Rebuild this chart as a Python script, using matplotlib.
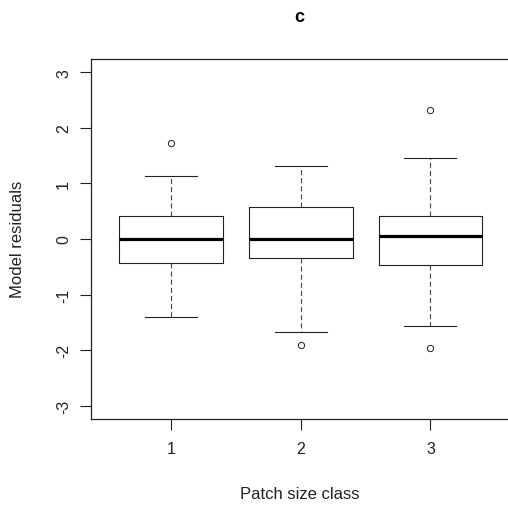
import matplotlib
matplotlib.use("Agg")
import matplotlib.pyplot as plt

plt.rcParams['font.family'] = ['Liberation Sans', 'DejaVu Sans']
plt.rcParams['axes.unicode_minus'] = False

# residual summaries per patch size class
classes = [1, 2, 3]
medians = [0.0, 0.0, 0.05]
q1 = [-0.43, -0.35, -0.46]
q3 = [0.42, 0.58, 0.42]
whisk_lo = [-1.40, -1.68, -1.56]
whisk_hi = [1.13, 1.31, 1.46]
outliers = [[1.72], [-1.91], [2.32, -1.97]]

stats = []
for i in range(len(classes)):
    stats.append({"med": medians[i], "q1": q1[i], "q3": q3[i],
                  "whislo": whisk_lo[i], "whishi": whisk_hi[i],
                  "fliers": outliers[i], "label": str(classes[i])})

fig = plt.figure(figsize=(5.08, 5.10), dpi=100)
ax = fig.add_axes([0.1785, 0.1765, 0.827, 0.706])

lc = "#222222"
ax.bxp(stats, positions=classes, widths=0.8, capwidths=0.4,
       boxprops=dict(color=lc, linewidth=0.8),
       medianprops=dict(color="black", linewidth=2.3, solid_capstyle="butt"),
       whiskerprops=dict(color="#444444", linewidth=0.8, linestyle=(0, (4.5, 2.8))),
       capprops=dict(color=lc, linewidth=0.8),
       flierprops=dict(marker="o", markersize=4.5, markerfacecolor="none",
                       markeredgecolor=lc, markeredgewidth=0.7))

ax.set_xlim(0.38, 3.62)
ax.set_ylim(-3.24, 3.24)
ax.set_yticks([-3, -2, -1, 0, 1, 2, 3])
ax.set_xticks(classes)
ax.set_xticklabels([str(c) for c in classes])
for lab in ax.get_yticklabels():
    lab.set_rotation(90)
    lab.set_va("center")
ax.tick_params(axis="both", length=8, width=0.8, color=lc, labelsize=11.5,
               labelcolor="#222222")
ax.tick_params(axis="x", pad=8)
ax.tick_params(axis="y", pad=6)
for s in ax.spines.values():
    s.set_linewidth(0.9)
    s.set_color(lc)

fig.text(0.59, 0.965, "c", ha="center", va="center", fontsize=13,
         fontweight="bold")
fig.text(0.59, 0.03, "Patch size class", ha="center", va="center",
         fontsize=12, color="#222222")
fig.text(0.035, 0.53, "Model residuals", ha="center", va="center",
         rotation=90, fontsize=12, color="#222222")

fig.savefig("out.png", dpi=100)
